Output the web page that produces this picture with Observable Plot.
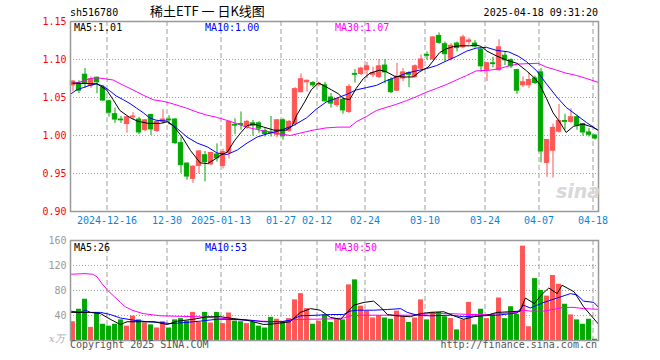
<!DOCTYPE html>
<html><head><meta charset="utf-8">
<script src="https://cdn.jsdelivr.net/npm/d3@7"></script>
<script src="https://cdn.jsdelivr.net/npm/@observablehq/plot@0.6"></script>
<style>
body{margin:0;background:#fff;}
#wrap{position:relative;width:660px;height:360px;overflow:hidden;font-family:"DejaVu Sans Mono",monospace;font-size:10px;}
.t{position:absolute;white-space:pre;line-height:10px;z-index:2;}
#wrap svg{position:absolute;left:0;}
</style></head><body><div id="wrap">
<div class="t" style="left:70px;top:8px;color:#000;">sh516780</div>
<div class="t" style="left:150px;top:4px;font-family:'Noto Sans CJK SC';font-size:13px;line-height:13px;color:#000;">稀土ETF 一 日K线图</div>
<div class="t" style="right:62px;top:8px;color:#000;">2025-04-18 09:31:20</div>
<div class="t" style="left:74px;top:23px;color:#000;">MA5:1.01</div>
<div class="t" style="left:205px;top:23px;color:#0000ff;">MA10:1.00</div>
<div class="t" style="left:335px;top:23px;color:#ff00ff;">MA30:1.07</div>
<div class="t" style="left:74px;top:243px;color:#000;">MA5:26</div>
<div class="t" style="left:205px;top:243px;color:#0000ff;">MA10:53</div>
<div class="t" style="left:335px;top:243px;color:#ff00ff;">MA30:50</div>
<div class="t" style="left:49px;top:334px;color:#aaa;font-style:italic;font-family:'DejaVu Serif';">x万</div>
<div class="t" style="left:70px;top:340px;color:#555;">Copyright 2025 SINA.COM</div>
<div class="t" style="right:63px;top:340px;color:#555;">http://finance.sina.com.cn</div>
<div class="t" style="left:556px;top:182px;color:#d8d8d8;font-family:'DejaVu Sans';font-style:italic;font-weight:bold;font-size:19px;line-height:19px;">sina</div>
</div>
<script>
const dates = ["12-06","12-09","12-10","12-11","12-12","12-13","12-16","12-17","12-18","12-19","12-20","12-23","12-24","12-25","12-26","12-27","12-30","12-31","01-02","01-03","01-06","01-07","01-08","01-09","01-10","01-13","01-14","01-15","01-16","01-17","01-20","01-21","01-22","01-23","01-24","01-27","02-05","02-06","02-07","02-10","02-11","02-12","02-13","02-14","02-17","02-18","02-19","02-20","02-21","02-24","02-25","02-26","02-27","02-28","03-03","03-04","03-05","03-06","03-07","03-10","03-11","03-12","03-13","03-14","03-17","03-18","03-19","03-20","03-21","03-24","03-25","03-26","03-27","03-28","03-31","04-01","04-02","04-03","04-07","04-08","04-09","04-10","04-11","04-14","04-15","04-16","04-17","04-18"];
const open  = [1.066,1.068,1.080,1.065,1.076,1.063,1.045,1.028,1.021,1.015,1.024,1.021,1.007,1.027,1.006,1.018,1.021,1.021,0.990,0.963,0.943,0.960,0.974,0.962,0.975,0.960,0.977,1.014,1.015,1.011,1.016,1.016,1.006,1.004,1.001,1.020,1.006,1.015,1.057,1.070,1.069,1.067,1.066,1.050,1.040,1.047,1.031,1.081,1.081,1.086,1.080,1.077,1.092,1.073,1.059,1.075,1.082,1.077,1.088,1.106,1.100,1.131,1.120,1.101,1.121,1.116,1.123,1.121,1.113,1.086,1.095,1.086,1.105,1.099,1.086,1.066,1.066,1.075,1.083,0.964,0.980,1.005,1.019,1.018,1.024,1.015,1.004,1.000];
const high  = [1.072,1.072,1.088,1.077,1.077,1.066,1.046,1.036,1.025,1.025,1.030,1.024,1.021,1.028,1.020,1.034,1.026,1.022,0.998,0.964,0.960,0.980,0.979,0.978,0.989,0.982,1.019,1.022,1.031,1.020,1.020,1.018,1.009,1.025,1.021,1.022,1.020,1.063,1.081,1.073,1.071,1.070,1.070,1.055,1.049,1.049,1.067,1.087,1.090,1.096,1.090,1.100,1.100,1.076,1.095,1.088,1.084,1.093,1.106,1.110,1.130,1.135,1.123,1.121,1.123,1.132,1.128,1.125,1.114,1.096,1.103,1.126,1.110,1.101,1.087,1.077,1.082,1.078,1.088,0.995,1.015,1.041,1.028,1.035,1.027,1.016,1.009,1.001];
const low   = [1.058,1.055,1.062,1.062,1.055,1.045,1.024,1.016,1.016,1.003,1.020,1.001,1.005,1.000,1.004,1.015,1.014,0.988,0.950,0.941,0.937,0.949,0.939,0.960,0.965,0.956,0.969,1.001,1.007,1.008,0.999,1.003,0.998,0.998,0.997,0.994,1.004,1.012,1.056,1.057,1.063,1.064,1.044,1.036,1.037,1.028,1.029,1.069,1.079,1.075,1.076,1.075,1.068,1.055,1.058,1.071,1.063,1.075,1.086,1.099,1.099,1.120,1.097,1.098,1.110,1.114,1.119,1.115,1.083,1.071,1.089,1.084,1.092,1.088,1.054,1.063,1.062,1.067,0.964,0.945,0.944,1.003,1.007,1.016,1.007,0.999,0.998,0.994];
const close = [1.071,1.059,1.068,1.074,1.070,1.046,1.030,1.021,1.020,1.024,1.025,1.004,1.020,1.008,1.018,1.021,1.020,0.990,0.961,0.946,0.959,0.979,0.965,0.977,0.970,0.978,1.018,1.013,1.014,1.018,1.013,1.009,1.002,1.003,1.020,0.999,1.018,1.061,1.074,1.072,1.066,1.068,1.045,1.042,1.048,1.033,1.064,1.080,1.088,1.091,1.082,1.091,1.083,1.057,1.077,1.083,1.080,1.091,1.100,1.105,1.129,1.122,1.107,1.118,1.115,1.129,1.125,1.117,1.091,1.095,1.094,1.116,1.099,1.091,1.059,1.070,1.073,1.069,0.979,0.994,1.010,1.019,1.018,1.024,1.013,1.004,1.001,0.996];
const volume = [30,50,66,21,44,26,23,26,33,23,39,33,28,25,20,30,20,33,35,31,45,29,45,28,45,27,44,31,30,27,29,23,20,37,34,30,35,65,75,51,26,31,41,29,34,33,89,97,55,47,36,40,36,34,47,38,29,36,65,33,45,45,38,35,17,33,61,25,50,35,41,68,35,54,42,151,22,99,80,71,104,90,58,41,33,26,34,2];

// moving-average lines (candle index, value)
const ma5X  = [0,4,5.6,6.7,7.8,9.4,10.7,12.5,14.6,15.7,16.8,18.2,19.6,21.2,22.4,23.5,24.6,25.7,26.9,28,29,30.1,31.8,33.5,35.5,36.5,37.3,38.6,39.7,40.9,41.7,43.1,44.2,45,46.1,47.2,48.4,49.5,51.1,52.2,53.6,55,56.7,57.8,59.2,60,61.1,62.2,63.4,64.5,66.1,67.2,68.1,69,70.5,72.3,74,75.6,77,77.8,78.9,80,81.1,82.2,83.4,85,86.6,87.5];
const ma5Y  = [1.069,1.068,1.060,1.047,1.033,1.024,1.019,1.016,1.016,1.018,1.012,0.998,0.980,0.964,0.963,0.968,0.974,0.978,0.993,1.004,1.013,1.015,1.011,1.007,1.007,1.012,1.027,1.044,1.060,1.069,1.066,1.060,1.055,1.049,1.047,1.062,1.075,1.082,1.086,1.084,1.078,1.077,1.077,1.084,1.090,1.098,1.109,1.114,1.117,1.118,1.118,1.119,1.117,1.111,1.105,1.099,1.095,1.085,1.075,1.067,1.049,1.030,1.018,1.004,1.012,1.015,1.011,1.007];
const ma10X = [-0.3,0.6,1.7,2.8,3.9,5,6.1,7.2,8.4,9.5,10.6,11.7,12.8,13.9,15.7,17.4,19,20.7,22.4,24,25.7,27.4,29,30.7,32.3,34.3,36.7,38.9,40.6,42.2,43.9,45.6,47.2,48.9,50.6,52.2,53.9,55.6,57.2,58.9,60.6,62.2,63.9,65.6,67.2,68.9,70.6,72.6,74.3,75.6,77.3,78.9,80.6,82.2,83.9,85.6,87.5];
const ma10Y = [1.055,1.060,1.063,1.066,1.068,1.065,1.059,1.052,1.047,1.042,1.036,1.030,1.023,1.020,1.019,1.009,0.998,0.990,0.985,0.977,0.975,0.981,0.990,0.998,1.002,1.006,1.013,1.023,1.035,1.044,1.049,1.054,1.060,1.063,1.066,1.072,1.077,1.082,1.085,1.088,1.092,1.098,1.104,1.111,1.115,1.116,1.112,1.110,1.104,1.097,1.085,1.068,1.051,1.037,1.027,1.017,1.007];
const ma30X = [-0.4,1,2.5,3.7,5,6.7,8.4,10,11.7,13.4,15,16.5,18.9,20.6,22.2,23.9,25.6,27.2,28.9,31.2,34.5,36.2,37.8,40,42.2,44.2,46.1,47.2,48.9,50.6,52.2,53.9,55.6,57.2,58.9,60.6,62.2,63.9,65.6,67.2,69.5,71.1,72.8,74.2,77.5,78.9,80.6,82.2,83.9,85.6,87.5];
const ma30Y = [1.068,1.070,1.074,1.076,1.075,1.073,1.066,1.060,1.053,1.047,1.045,1.042,1.036,1.031,1.027,1.024,1.020,1.016,1.011,1.007,1.002,1.000,1.003,1.007,1.010,1.011,1.011,1.018,1.025,1.033,1.037,1.041,1.046,1.051,1.057,1.062,1.067,1.073,1.079,1.085,1.086,1.088,1.092,1.094,1.095,1.090,1.086,1.082,1.079,1.075,1.070];
const vma5X = [-0.4,2.9,4.6,6.2,7.9,9,13.5,15.7,17.4,20.1,22.3,24.6,26.8,29,31.8,33.5,36.2,37.9,39.6,41.2,42.9,44.6,45.7,46.8,48.5,50.1,51.2,52.4,54,56.2,57.9,59.6,61.8,63.5,65.1,66.8,69,70.7,72.9,74.5,75.4,76.9,78,79.3,80.7,81.5,83.5,85.1,87.5];
const vma5Y = [45,45,43,34,25.6,30,30,25.6,31,34,38,38,35,32.5,25.6,26.7,30,45,51,48.5,37,34,45,56.5,61,63,54,41.6,39.5,38,43,45,46,39.5,34,38,40.5,45,46,47,68,59,72.5,84,75,88.5,78,54,27];
const vma10X = [-0.4,1.2,2.1,2.9,4.6,6.2,7.9,10.1,12.4,14.6,16.2,19,21.2,24,26.8,29.6,31.8,34.6,36.2,37.9,40.7,42.9,45.1,46.2,47.4,50.1,52.4,54.6,55.7,57.4,59.6,62.9,65.1,67.4,70.7,74,75.1,76.2,78.5,80.7,82.9,84,85.1,86.8,87.5];
const vma10Y = [47,45,48.5,45,45,41.6,36,32.5,30,29,27,29,31,34,33.6,32.5,30,30,32.5,39.5,40.5,41.6,41.6,47,48.5,48.5,49.6,51,45,40.5,39.5,40.5,38,39.5,40.5,44,56.5,52,61,68,75,73,63,61,54];
const vma30X = [-0.4,2,3.3,4,4.75,5.8,6.9,7.9,8.7,10,11.7,13.4,14.6,19,21.2,24,26.8,31.2,35.1,36.8,42.9,45.1,46.2,47.9,56.2,57.9,59.6,62.9,66.2,69.6,70.7,74,75.1,76.2,78.5,80.7,81.8,83.5,85.1,87.5];
const vma30Y = [106,107,106,102,92,80,70,61,54,48,43,41,39.5,38.4,38,36,34,31,30,33.6,34.5,36,39.5,40.5,40.5,41.6,43,43,41.6,41.6,43,45,48.5,47,47,51,53,53,51,50];

const priceTicks = [0.90,0.95,1.00,1.05,1.10,1.15];
const volTicks = [40,80,120,160];
const dateTickIdx = [6,16,25,35,41,49,59,69,78,87];
const dateTickLabels = ["2024-12-16","12-30","2025-01-13","01-27","02-12","02-24","03-10","03-24","04-07","04-18"];

const RED = "#ff5555", GREEN = "#00a800", GRID = "#a0a0a0";
const rows = dates.map((d, i) => ({i, o: open[i], h: high[i], l: low[i], c: close[i], v: volume[i], col: close[i] >= open[i] ? RED : GREEN}));
const pts = (xs, ys) => xs.map((x, k) => ({x, y: ys[k]}));
const xDomain = [-5/12, 87 + 7/12];
const half = 0.36;

const price = Plot.plot({
  width: 660, height: 230, marginLeft: 70, marginRight: 62, marginTop: 21, marginBottom: 19,
  x: {type: "linear", domain: xDomain},
  y: {domain: [0.90, 1.15]},
  color: {type: "identity"},
  style: {fontFamily: "DejaVu Sans Mono", fontSize: "10px", background: "transparent", overflow: "visible"},
  marks: [
    Plot.ruleY(priceTicks.slice(1, -1), {stroke: GRID, strokeDasharray: "1,2"}),
    Plot.ruleX(dateTickIdx, {dx: -2, stroke: GRID, strokeDasharray: "5,3"}),
    Plot.ruleX(rows, {x: "i", y1: "l", y2: "h", stroke: "col"}),
    Plot.rect(rows, {x1: d => d.i - half, x2: d => d.i + half, y1: "o", y2: "c", fill: "col", stroke: "col", strokeWidth: 1}),
    Plot.line(pts(ma30X, ma30Y), {x: "x", y: "y", stroke: "#ff00ff", strokeWidth: 1, clip: true}),
    Plot.line(pts(ma10X, ma10Y), {x: "x", y: "y", stroke: "#0000ff", strokeWidth: 1, clip: true}),
    Plot.line(pts(ma5X, ma5Y), {x: "x", y: "y", stroke: "#000", strokeWidth: 1, clip: true}),
    Plot.axisY({ticks: priceTicks, tickSize: 0, tickPadding: 4, tickFormat: d => d.toFixed(2), fill: "#ff0000", fontSize: 10}),
    Plot.axisX({ticks: dateTickIdx, tickSize: 0, tickPadding: 5, dx: -2, tickFormat: d => dateTickLabels[dateTickIdx.indexOf(d)], fill: "#0a86d8", fontSize: 10}),
    Plot.frame({stroke: "#999", strokeWidth: 1.5})
  ]
});
price.style.top = "0px";

const vol = Plot.plot({
  width: 660, height: 130, marginLeft: 70, marginRight: 62, marginTop: 10, marginBottom: 20,
  x: {type: "linear", domain: xDomain, axis: null},
  y: {domain: [0, 160]},
  color: {type: "identity"},
  style: {fontFamily: "DejaVu Sans Mono", fontSize: "10px", background: "transparent", overflow: "visible"},
  marks: [
    Plot.ruleY(volTicks.slice(0, -1), {stroke: GRID, strokeDasharray: "1,2"}),
    Plot.ruleX(dateTickIdx, {dx: -2, stroke: GRID, strokeDasharray: "5,3"}),
    Plot.rect(rows, {x1: d => d.i - half - 0.05, x2: d => d.i + half + 0.05, y1: 0, y2: "v", fill: "col"}),
    Plot.line(pts(vma30X, vma30Y), {x: "x", y: "y", stroke: "#ff00ff", strokeWidth: 1, clip: true}),
    Plot.line(pts(vma10X, vma10Y), {x: "x", y: "y", stroke: "#0000ff", strokeWidth: 1, clip: true}),
    Plot.line(pts(vma5X, vma5Y), {x: "x", y: "y", stroke: "#000", strokeWidth: 1, clip: true}),
    Plot.axisY({ticks: volTicks, tickSize: 0, tickPadding: 4, fill: "#999", fontSize: 10}),
    Plot.frame({stroke: "#999", strokeWidth: 1.5})
  ]
});
vol.style.top = "230px";

const wrap = document.getElementById("wrap");
wrap.insertBefore(vol, wrap.firstChild);
wrap.insertBefore(price, wrap.firstChild);
</script></body></html>
